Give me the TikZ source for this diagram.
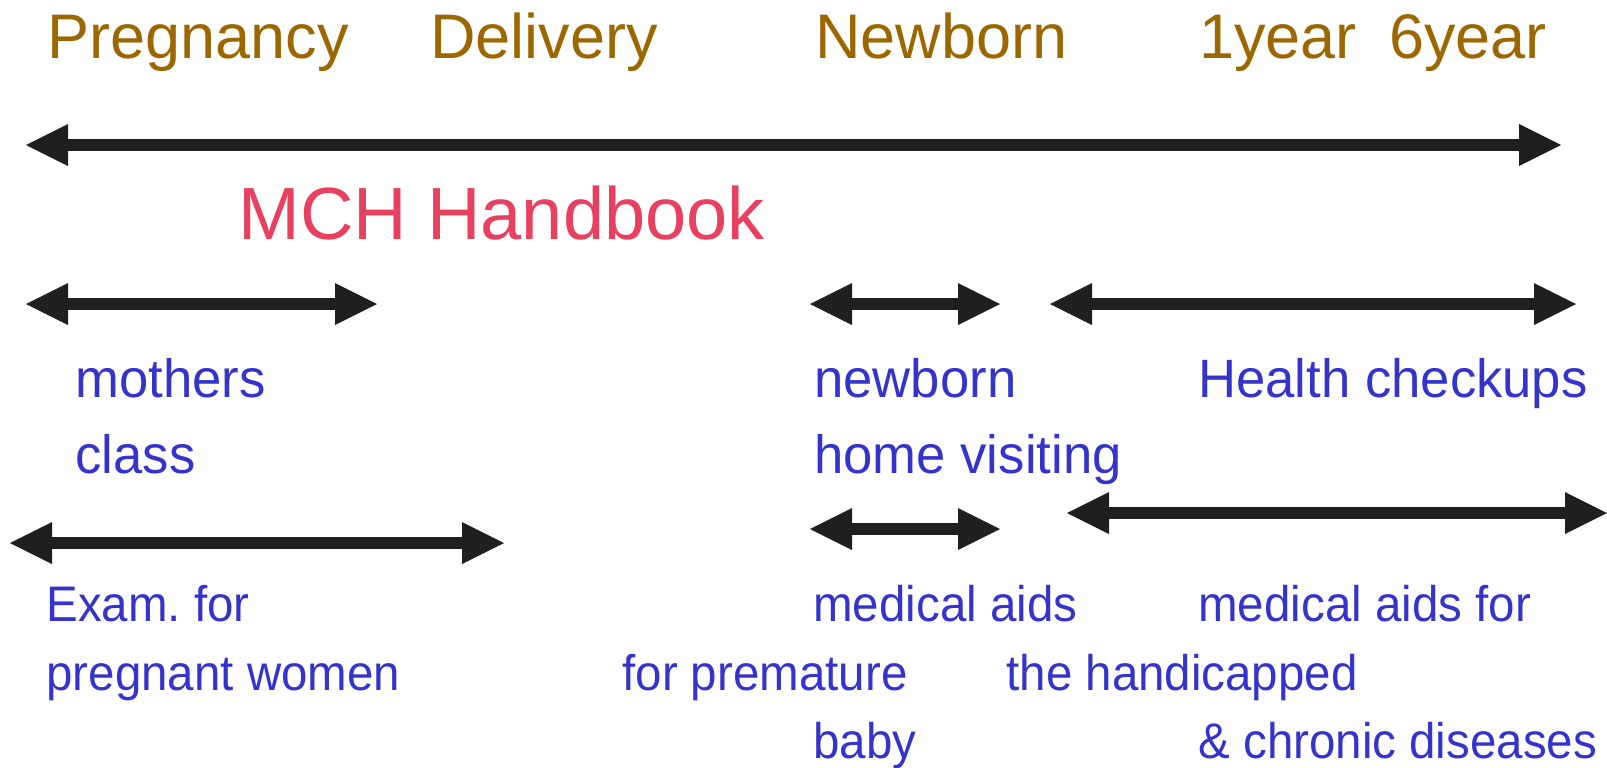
\documentclass[tikz,border=0pt]{standalone}
\usepackage{fontspec}
\setmainfont{Liberation Sans}
\newfontfamily\midsans[FakeStretch=0.975]{Liberation Sans}
\newfontfamily\condsans[FakeStretch=0.95]{Liberation Sans}
\usetikzlibrary{arrows.meta}
\definecolor{brn}{HTML}{9C6700}
\definecolor{mchred}{HTML}{E8405F}
\definecolor{lblue}{HTML}{3434CC}
\frenchspacing
\tikzset{
  stage/.style={anchor=base west, inner sep=0pt, text=brn, font=\fontsize{31.5pt}{36pt}\selectfont},
  title/.style={anchor=base west, inner sep=0pt, text=mchred, font=\fontsize{37pt}{42pt}\selectfont},
  lbl/.style={anchor=base west, inner sep=0pt, text=lblue, font=\midsans\fontsize{27pt}{30pt}\selectfont},
  lblb/.style={anchor=base west, inner sep=0pt, text=lblue, font=\condsans\fontsize{25pt}{30pt}\selectfont},
  span/.style={draw=black!88, line width=5.6pt, {Triangle[length=21pt,width=21pt,line width=0pt]}-{Triangle[length=21pt,width=21pt,line width=0pt]}}
}
\begin{document}
\begin{tikzpicture}[x=0.5pt,y=-0.5pt]
\useasboundingbox (0,0) rectangle (1607,767);
% stage labels
\node[stage] (preg) at (47,58.5) {Pregnancy};
\node[stage] (deliv) at (430,58.5) {Delivery};
\node[stage] (newb) at (815,58.5) {Newborn};
\node[stage] (y1) at (1199,58.5) {1year};
\node[stage] (y6) at (1389,58.5) {6year};
% main arrow
\coordinate (mL) at (26,145);
\coordinate (mR) at (1561,145);
\draw[span] (mL) -- (mR);
\node[title] (mch) at (238,239) {MCH Handbook};
% row 2 arrows
\coordinate (aL) at (26,304);
\coordinate (aR) at (377,304);
\draw[span] (aL) -- (aR);
\coordinate (bL) at (810,304);
\coordinate (bR) at (1000,304);
\draw[span] (bL) -- (bR);
\coordinate (cL) at (1050,304);
\coordinate (cR) at (1576,304);
\draw[span] (cL) -- (cR);
% row 2 labels
\node[lbl] (moth) at (75,397.5) {mothers};
\node[lbl] (clas) at (75,473.5) {class};
\node[lbl] (nbn) at (814,397.5) {newborn};
\node[lbl] (hvis) at (814,473.5) {home visiting};
\node[lbl] (hchk) at (1198,397.5) {Health checkups};
% row 3 arrows
\coordinate (dL) at (10,543);
\coordinate (dR) at (504,543);
\draw[span] (dL) -- (dR);
\coordinate (eL) at (810,529);
\coordinate (eR) at (1000,529);
\draw[span] (eL) -- (eR);
\coordinate (fL) at (1067,513);
\coordinate (fR) at (1607,513);
\draw[span] (fL) -- (fR);
% row 3 labels
\node[lblb] (exam) at (46,621) {Exam. for};
\node[lblb] (pregw) at (46,690) {pregnant women};
\node[lblb] (medA) at (813,621) {medical aids};
\node[lblb] (forp) at (622,690) {for premature};
\node[lblb] (baby) at (813,758) {baby};
\node[lblb] (medB) at (1198,621) {medical aids for};
\node[lblb] (hand) at (1006,690) {the handicapped};
\node[lblb] (chron) at (1198,758) {\& chronic diseases};
\end{tikzpicture}
\end{document}
